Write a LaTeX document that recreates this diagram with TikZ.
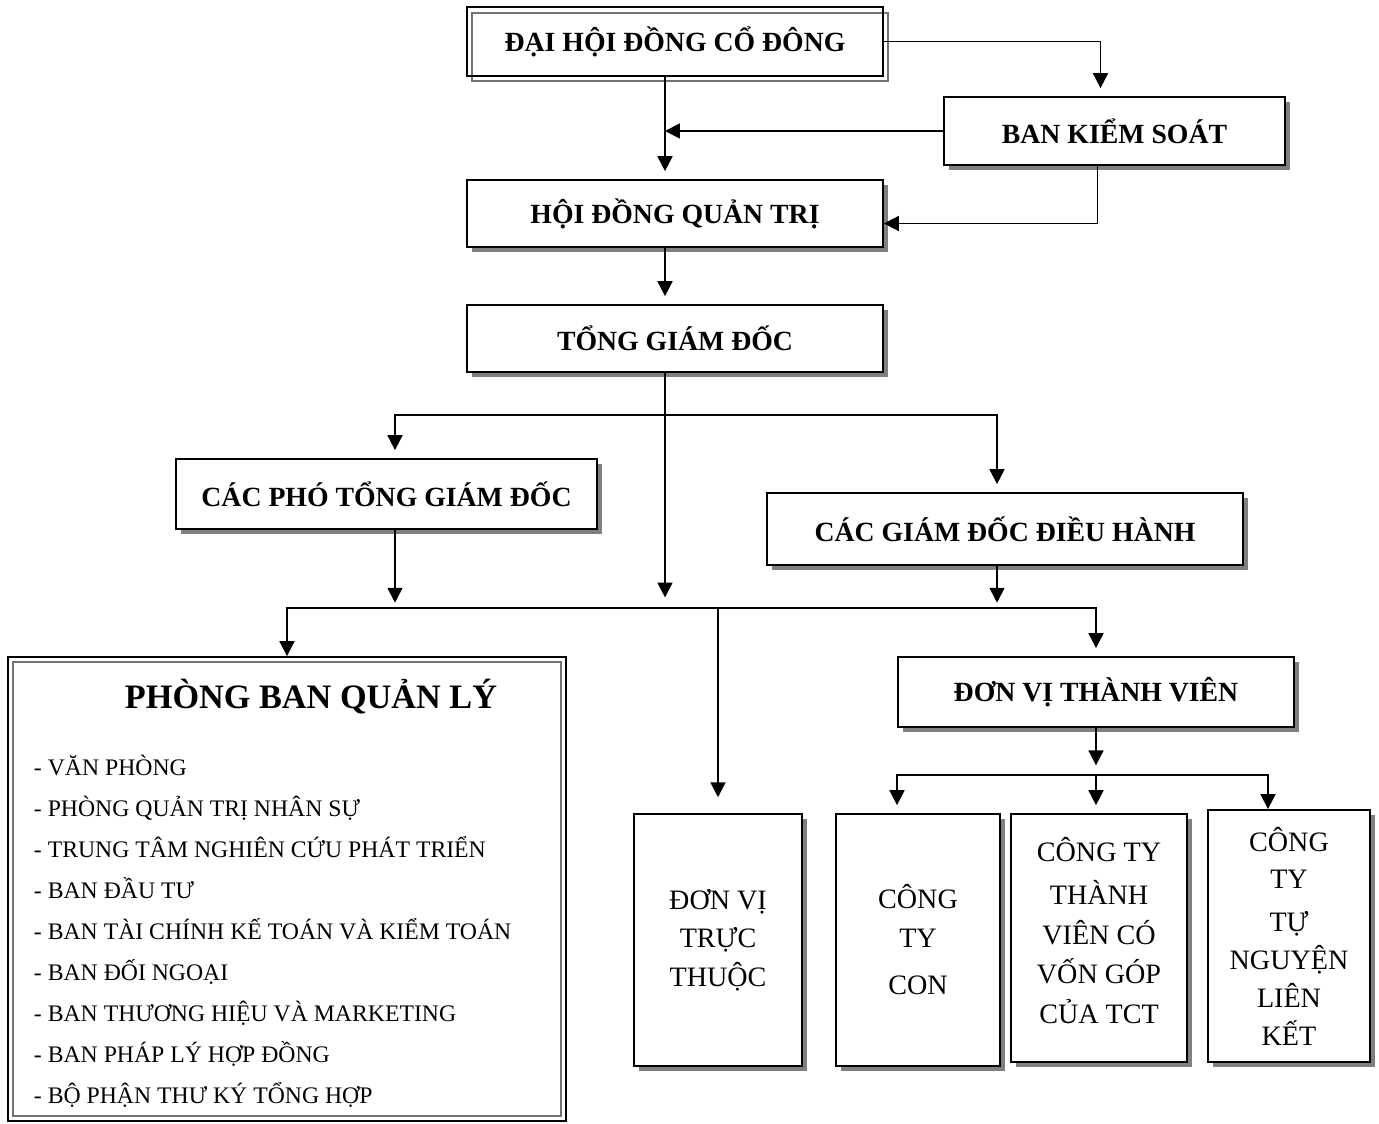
\documentclass[tikz,border=0pt]{standalone}
\usepackage{fontspec}
\setmainfont{Liberation Serif}
\usetikzlibrary{arrows.meta,shadows,calc}

\begin{document}
\begin{tikzpicture}[x=0.02cm,y=-0.02cm,line width=1.1pt,
    >={Triangle[length=8.5pt,width=8.5pt]},
    bong/.style={drop shadow={shadow xshift=2.6pt,shadow yshift=-2.6pt,fill=black!50,opacity=1}},
    hop/.style={draw,fill=white,bong,inner sep=2pt,align=center},
    tieude/.style={hop,font=\bfseries\fontsize{15.8}{19}\selectfont},
    donvi/.style={hop,font=\fontsize{16}{22}\selectfont},
    muiten/.style={->,shorten >=4.5pt},
    dong/.style={font=\fontsize{13.5}{16}\selectfont,anchor=base west,inner sep=0pt}]

\useasboundingbox (0,0) rectangle (1379,1124);

% khung kep cua dai hoi dong co dong
\draw[black!55,line width=1.3pt] (472,13) rectangle (888,81);
\node[draw,inner sep=0pt,minimum width=8.32cm,minimum height=1.38cm,
  font=\bfseries\fontsize{15.8}{19}\selectfont] (dhdcd) at (675,41.5) {ĐẠI HỘI ĐỒNG CỔ ĐÔNG};
\node[tieude,minimum width=6.82cm,minimum height=1.36cm] (bks) at (1114.5,131) {BAN KIỂM SOÁT};
\node[tieude,minimum width=8.32cm,minimum height=1.34cm] (hdqt) at (675,213.5) {HỘI ĐỒNG QUẢN TRỊ};
\node[tieude,minimum width=8.32cm,minimum height=1.34cm] (tgd) at (675,338.5) {TỔNG GIÁM ĐỐC};
\node[tieude,minimum width=8.42cm,minimum height=1.4cm] (ptgd) at (386.5,494) {CÁC PHÓ TỔNG GIÁM ĐỐC};
\node[tieude,minimum width=9.52cm,minimum height=1.44cm] (gddh) at (1005,529) {CÁC GIÁM ĐỐC ĐIỀU HÀNH};
\node[tieude,minimum width=7.92cm,minimum height=1.4cm] (dvtv) at (1096,692) {ĐƠN VỊ THÀNH VIÊN};

% phong ban quan ly
\draw[black!55,line width=0.8pt] (13,662) rectangle (561,1116);
\node[draw,inner sep=0pt,minimum width=11.16cm,minimum height=9.28cm] (pbql) at (287,889) {};
\node[font=\bfseries\fontsize{19.5}{23}\selectfont] (tenpb) at (311,697) {PHÒNG BAN QUẢN LÝ};
\foreach \ten [count=\i from 0] in {VĂN PHÒNG,PHÒNG QUẢN TRỊ NHÂN SỰ,TRUNG TÂM NGHIÊN CỨU PHÁT TRIỂN,
    BAN ĐẦU TƯ,BAN TÀI CHÍNH KẾ TOÁN VÀ KIỂM TOÁN,BAN ĐỐI NGOẠI,BAN THƯƠNG HIỆU VÀ MARKETING,
    BAN PHÁP LÝ HỢP ĐỒNG,BỘ PHẬN THƯ KÝ TỔNG HỢP}
  \node[dong] (pb\i) at (33,{775+41.1*\i}) {- \ten};

% cac don vi
\node[donvi,minimum width=3.36cm,minimum height=5.04cm] (dvtt) at (718,940) {ĐƠN VỊ\\TRỰC\\THUỘC};
\node[donvi,minimum width=3.28cm,minimum height=5.04cm] (ctcon) at (918,940) {CÔNG\\TY\\[5pt]CON};
\node[donvi,minimum width=3.52cm,minimum height=4.96cm,font=\fontsize{16}{22.6}\selectfont] (cttv) at (1099,938) {CÔNG TY\\[2pt]THÀNH\\VIÊN CÓ\\VỐN GÓP\\CỦA TCT\\[-14pt]{}};
\node[donvi,minimum width=3.24cm,minimum height=5.04cm,font=\fontsize{16}{21.5}\selectfont] (cttn) at (1289,936) {CÔNG\\TY\\[3pt]TỰ\\NGUYỆN\\LIÊN\\KẾT};

% cac duong noi
\coordinate (truc) at ($(dhdcd.south)+(-10,0)$);
\coordinate (nhanh1) at (0,415);
\coordinate (nhanh2) at (0,608);
\coordinate (nhanh3) at (0,775);
\coordinate (p1) at ($(ptgd.north)+(8.5,0)$);
\coordinate (g1) at ($(gddh.north)+(-8,0)$);
\coordinate (c1) at ($(ctcon.north)+(-21,0)$);
\coordinate (c3) at ($(cttn.north)+(-21,0)$);

\draw[muiten] (dhdcd.east) -| ($(bks.north)+(-14,0)$);
\draw[muiten] (truc) -- (truc |- hdqt.north);
\draw[->] (bks.west) -- (truc |- bks.west);
\draw[->] ($(bks.south)+(-17,0)$) |- ($(hdqt.east)+(0,10)$);
\draw[muiten] (truc |- hdqt.south) -- (truc |- tgd.north);
\draw[->,shorten >=6pt] (truc |- tgd.south) -- (truc |- nhanh2);
\draw[muiten] (truc |- nhanh1) -| (p1);
\draw[muiten] (truc |- nhanh1) -| (g1);
\draw[->,shorten >=3pt] (p1 |- ptgd.south) -- (p1 |- nhanh2);
\draw[->,shorten >=3pt] (g1 |- gddh.south) -- (g1 |- nhanh2);
\draw[->] (dvtt.north |- nhanh2) -| (pbql.north);
\draw[muiten] (dvtt.north |- nhanh2) -| (dvtv.north);
\draw[->,shorten >=9pt] (dvtt.north |- nhanh2) -- (dvtt.north);
\draw[->,shorten >=5.5pt] (dvtv.south) -- (dvtv.south |- nhanh3);
\draw[muiten] (dvtv.south |- nhanh3) -| (c1);
\draw[muiten] (dvtv.south |- nhanh3) -- (dvtv.south |- cttv.north);
\draw[->] (dvtv.south |- nhanh3) -| (c3);
\end{tikzpicture}
\end{document}
